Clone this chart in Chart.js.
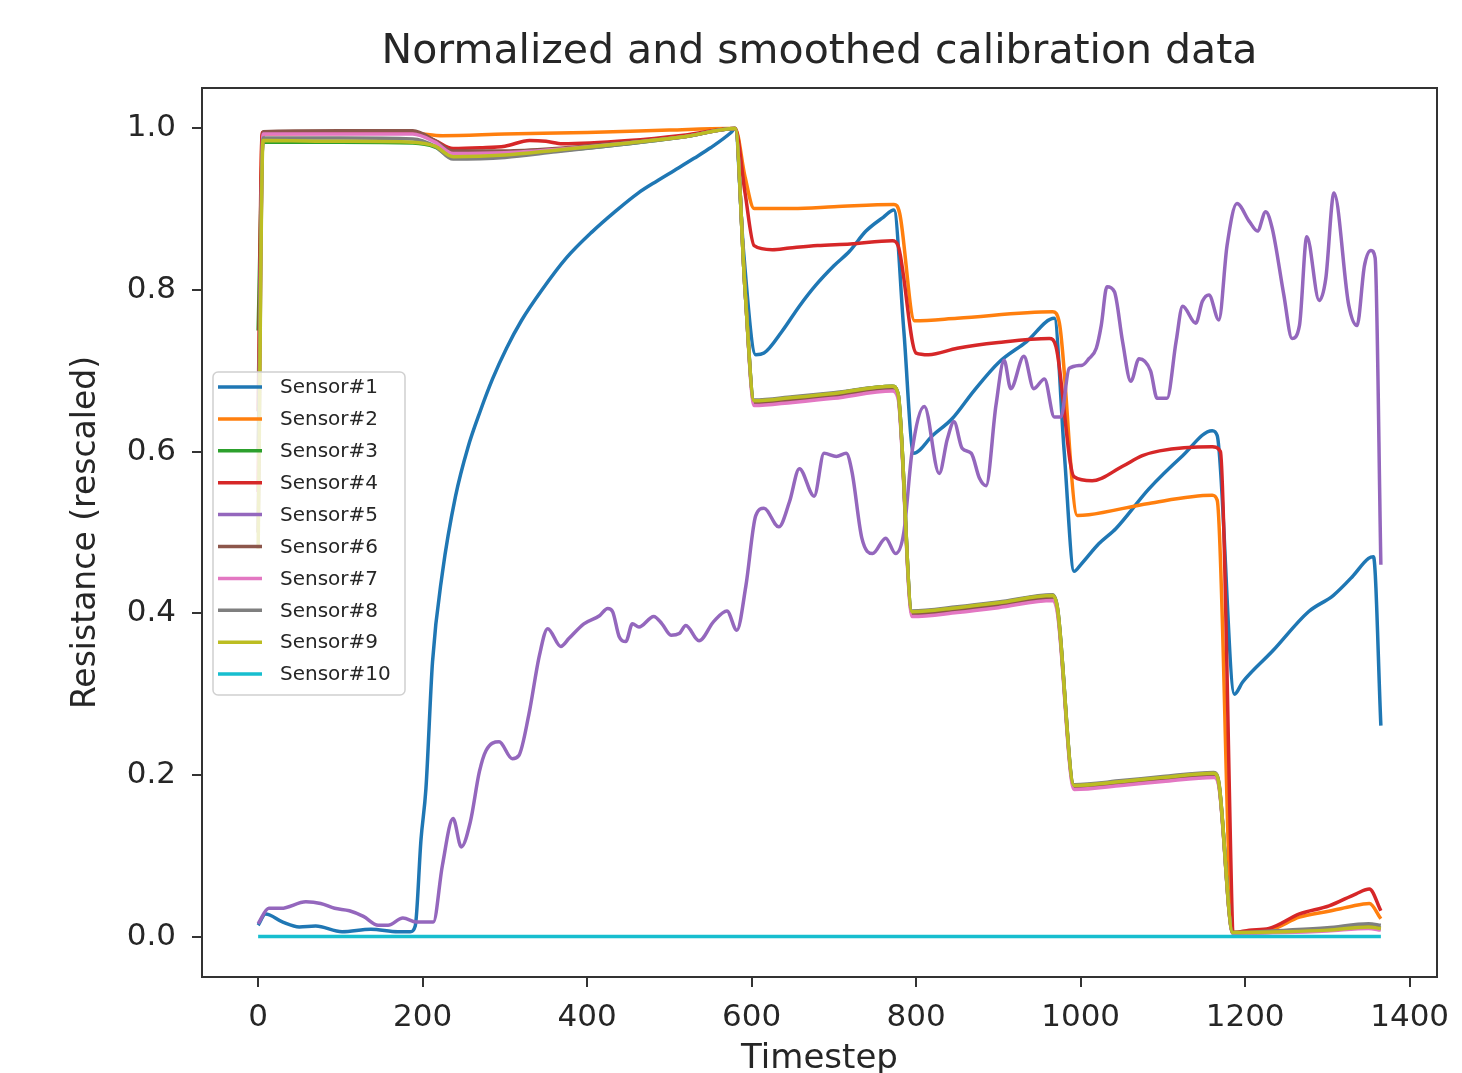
<!DOCTYPE html>
<html>
<head>
<meta charset="utf-8">
<script src="https://cdn.jsdelivr.net/npm/chart.js@4.4.1/dist/chart.umd.min.js"></script>
<style>
html,body{margin:0;padding:0;background:#ffffff;}
#wrap{width:1462px;height:1073px;position:relative;}
</style>
</head>
<body>
<div id="wrap"><canvas id="c" width="1462" height="1073"></canvas></div>
<script>
// ---------- DATA ----------
const sensorNames = ["Sensor#1","Sensor#2","Sensor#3","Sensor#4","Sensor#5","Sensor#6","Sensor#7","Sensor#8","Sensor#9","Sensor#10"];
const sensorColors = ["#1f77b4","#ff7f0e","#2ca02c","#d62728","#9467bd","#8c564b","#e377c2","#7f7f7f","#bcbd22","#17becf"];
const xTicks = [0,200,400,600,800,1000,1200,1400];
const yTicks = [0.0,0.2,0.4,0.6,0.8,1.0];

// Sensor#1
const s1T = [0,9,30,50,70,102,137,170,185,191,198,204,212,224,240,255,270,285,302,320,345,375,406,435,462,485,506,530,550,575,580,590,605,615,637,658,678,700,719,739,760,773,785,797,820,844,870,901,934,968,980,992,1000,1022,1043,1083,1124,1160,1166,1187,1197,1233,1277,1307,1330,1350,1356,1365];
const s1V = [0.014,0.028,0.018,0.012,0.013,0.006,0.009,0.006,0.006,0.013,0.12,0.183,0.34,0.45,0.545,0.605,0.65,0.69,0.728,0.762,0.8,0.84,0.872,0.898,0.92,0.935,0.948,0.963,0.976,0.995,1.0,0.85,0.72,0.722,0.749,0.78,0.806,0.83,0.848,0.873,0.89,0.899,0.75,0.598,0.62,0.641,0.675,0.711,0.736,0.765,0.6,0.452,0.46,0.486,0.505,0.554,0.595,0.626,0.62,0.30,0.315,0.353,0.402,0.422,0.445,0.468,0.47,0.261];

// Sensor#2
const s2T = [0,5,188,224,300,400,500,570,580,592,603,650,700,773,780,798,850,966,974,996,1010,1083,1160,1166,1185,1230,1266,1300,1327,1351,1365];
const s2V = [0.55,0.993,0.994,0.991,0.993,0.995,0.998,1.0,1.0,0.94,0.901,0.901,0.903,0.906,0.895,0.762,0.765,0.773,0.76,0.521,0.522,0.536,0.546,0.54,0.005,0.008,0.024,0.031,0.037,0.041,0.022];

// Sensor#4
const s4T = [0,5,188,215,237,270,300,330,350,370,450,520,580,592,603,625,646,680,720,771,778,800,815,850,900,962,970,992,1014,1051,1075,1096,1160,1170,1187,1205,1229,1266,1302,1335,1351,1365];
const s4V = [0.65,0.995,0.995,0.985,0.975,0.976,0.978,0.985,0.984,0.981,0.985,0.992,1.0,0.92,0.855,0.85,0.852,0.855,0.857,0.861,0.855,0.722,0.72,0.728,0.735,0.74,0.73,0.569,0.564,0.582,0.595,0.601,0.606,0.60,0.005,0.008,0.01,0.028,0.038,0.053,0.059,0.032];

// Sensor#5
const s5T = [0,13,28,58,76,93,111,128,146,158,176,193,213,224,237,247,258,269,277,293,309,317,329,342,352,368,378,396,415,425,431,439,447,455,463,481,491,502,512,520,536,554,570,582,593,605,615,633,646,658,676,688,703,715,722,734,747,763,775,785,795,810,828,838,846,856,867,877,885,897,907,915,931,943,956,968,976,986,1002,1010,1019,1025,1032,1041,1051,1061,1071,1085,1093,1105,1116,1124,1140,1148,1156,1168,1178,1190,1205,1215,1225,1233,1247,1257,1266,1275,1290,1298,1308,1326,1336,1345,1353,1358,1365];
const s5V = [0.016,0.035,0.035,0.043,0.041,0.035,0.032,0.025,0.014,0.014,0.023,0.018,0.018,0.088,0.146,0.111,0.142,0.204,0.23,0.241,0.22,0.224,0.274,0.348,0.381,0.359,0.369,0.387,0.397,0.406,0.402,0.371,0.365,0.387,0.383,0.396,0.387,0.373,0.375,0.385,0.366,0.39,0.403,0.379,0.434,0.521,0.53,0.507,0.538,0.579,0.545,0.598,0.594,0.598,0.575,0.493,0.474,0.493,0.474,0.50,0.60,0.656,0.573,0.616,0.637,0.604,0.598,0.567,0.558,0.657,0.713,0.678,0.718,0.678,0.69,0.643,0.643,0.703,0.707,0.715,0.728,0.756,0.804,0.798,0.736,0.687,0.715,0.70,0.666,0.666,0.736,0.78,0.759,0.786,0.794,0.763,0.855,0.907,0.885,0.873,0.897,0.876,0.794,0.74,0.756,0.866,0.787,0.814,0.92,0.781,0.756,0.83,0.849,0.84,0.46];

// Sensors #3, #6, #7, #8, #9 share timesteps
const groupT = [0,6,100,188,215,237,300,362,450,520,580,592,603,650,700,771,778,795,850,900,966,972,992,1050,1100,1162,1168,1185,1250,1300,1350,1365];
const s3V = [0.75,0.983,0.983,0.982,0.977,0.964,0.966,0.972,0.981,0.99,1.0,0.8,0.663,0.667,0.672,0.681,0.672,0.402,0.407,0.413,0.422,0.405,0.187,0.192,0.197,0.202,0.19,0.005,0.006,0.008,0.012,0.01];
const s6V = [0.5,0.996,0.997,0.997,0.985,0.972,0.972,0.975,0.983,0.99,1.0,0.8,0.66,0.664,0.669,0.678,0.669,0.399,0.404,0.41,0.419,0.402,0.185,0.19,0.195,0.2,0.188,0.004,0.006,0.009,0.013,0.01];
const s7V = [0.55,0.993,0.993,0.993,0.983,0.969,0.97,0.974,0.982,0.99,1.0,0.8,0.657,0.661,0.666,0.675,0.666,0.396,0.401,0.407,0.416,0.399,0.182,0.187,0.192,0.197,0.186,0.004,0.005,0.007,0.01,0.008];
const s8V = [0.6,0.988,0.988,0.987,0.978,0.962,0.964,0.971,0.981,0.99,1.0,0.8,0.664,0.668,0.673,0.681,0.672,0.403,0.408,0.414,0.423,0.406,0.188,0.193,0.198,0.203,0.191,0.005,0.008,0.011,0.016,0.014];
const s9V = [0.48,0.985,0.984,0.983,0.978,0.965,0.967,0.973,0.982,0.99,1.0,0.8,0.663,0.667,0.672,0.681,0.672,0.402,0.407,0.413,0.422,0.405,0.187,0.192,0.197,0.202,0.19,0.005,0.006,0.008,0.012,0.01];

// Sensor#10
const s10T = [0,1365];
const s10V = [0.0,0.0];

// ---------- BUILD ----------
const seriesT = [s1T,s2T,groupT,s4T,s5T,groupT,groupT,groupT,groupT,s10T];
const seriesV = [s1V,s2V,s3V,s4V,s5V,s6V,s7V,s8V,s9V,s10V];

const datasets = sensorNames.map((name,i)=>({
  label: name,
  data: seriesT[i].map((t,k)=>({x:t,y:seriesV[i][k]})),
  borderColor: sensorColors[i],
  backgroundColor: sensorColors[i],
  borderWidth: 3.5,
  pointRadius: 0,
  fill: false,
  cubicInterpolationMode: 'monotone',
  order: sensorNames.length - i
}));

const FONT = "'DejaVu Sans', 'Liberation Sans', sans-serif";
Chart.defaults.font.family = FONT;
const TXT = '#262626';
const AX = '#333333';

const framePlugin = {
  id: 'frame',
  afterDraw(chart){
    const {ctx, chartArea:a} = chart;
    ctx.save();
    ctx.strokeStyle = AX;
    ctx.lineWidth = 2;
    ctx.strokeRect(a.left, a.top, a.right-a.left, a.bottom-a.top);
    ctx.restore();
  }
};

const legendBoxPlugin = {
  id: 'legendBox',
  afterDatasetsDraw(chart){
    const {ctx, chartArea:a} = chart;
    const x = a.left + 11, w = 192, h = 323;
    const y = (a.top + a.bottom)/2 - h/2 + 1;
    ctx.save();
    ctx.beginPath();
    if (ctx.roundRect) ctx.roundRect(x, y, w, h, 5); else ctx.rect(x,y,w,h);
    ctx.fillStyle = 'rgba(255,255,255,0.8)';
    ctx.fill();
    ctx.strokeStyle = '#d0d0d0';
    ctx.lineWidth = 1.5;
    ctx.stroke();
    const rowH = 31.9;
    chart.data.datasets.forEach((ds,i)=>{
      const yy = y + 15 + rowH*i;
      ctx.beginPath();
      ctx.moveTo(x+5, yy);
      ctx.lineTo(x+49, yy);
      ctx.strokeStyle = ds.borderColor;
      ctx.lineWidth = 3.5;
      ctx.stroke();
      ctx.fillStyle = TXT;
      ctx.font = "20px " + FONT;
      ctx.textBaseline = 'middle';
      ctx.textAlign = 'left';
      ctx.fillText(ds.label, x+67, yy+1);
    });
    ctx.restore();
  }
};

new Chart(document.getElementById('c'), {
  type: 'line',
  data: { datasets },
  options: {
    responsive: false,
    animation: false,
    devicePixelRatio: 1,
    layout: { padding: { left: 0, right: 25, top: 0, bottom: 0 } },
    plugins: {
      legend: { display: false },
      tooltip: { enabled: false },
      title: {
        display: true,
        text: 'Normalized and smoothed calibration data',
        fullSize: false,
        color: TXT,
        font: { family: FONT, size: 41, weight: 'normal', lineHeight: 1.2 },
        padding: { top: 28, bottom: 10.8 }
      }
    },
    scales: {
      x: {
        type: 'linear',
        min: -68.25,
        max: 1433.25,
        afterBuildTicks: (s)=>{ s.ticks = xTicks.map(v=>({value:v})); },
        afterFit: (s)=>{ s.height = 96; },
        ticks: { color: TXT, font: { family: FONT, size: 31 }, padding: 12, maxRotation: 0, autoSkip: false, callback: (v)=>String(v) },
        grid: { display: true, drawOnChartArea: false, drawTicks: true, tickLength: 10, color: AX, lineWidth: 2 },
        border: { display: false },
        title: { display: true, text: 'Timestep', color: TXT, font: { family: FONT, size: 34, lineHeight: 0.8 }, padding: { top: 0, bottom: 0 } }
      },
      y: {
        type: 'linear',
        min: -0.05,
        max: 1.05,
        afterBuildTicks: (s)=>{ s.ticks = yTicks.map(v=>({value:v})); },
        afterFit: (s)=>{ s.width = 202; },
        ticks: { color: TXT, font: { family: FONT, size: 31 }, padding: 16, autoSkip: false, callback: (v)=>Number(v).toFixed(1) },
        grid: { display: true, drawOnChartArea: false, drawTicks: true, tickLength: 10, color: AX, lineWidth: 2 },
        border: { display: false },
        title: { display: true, text: 'Resistance (rescaled)', color: TXT, font: { family: FONT, size: 33, lineHeight: 1 }, padding: { top: 70, bottom: 0 } }
      }
    }
  },
  plugins: [legendBoxPlugin, framePlugin]
});
</script>
</body>
</html>
